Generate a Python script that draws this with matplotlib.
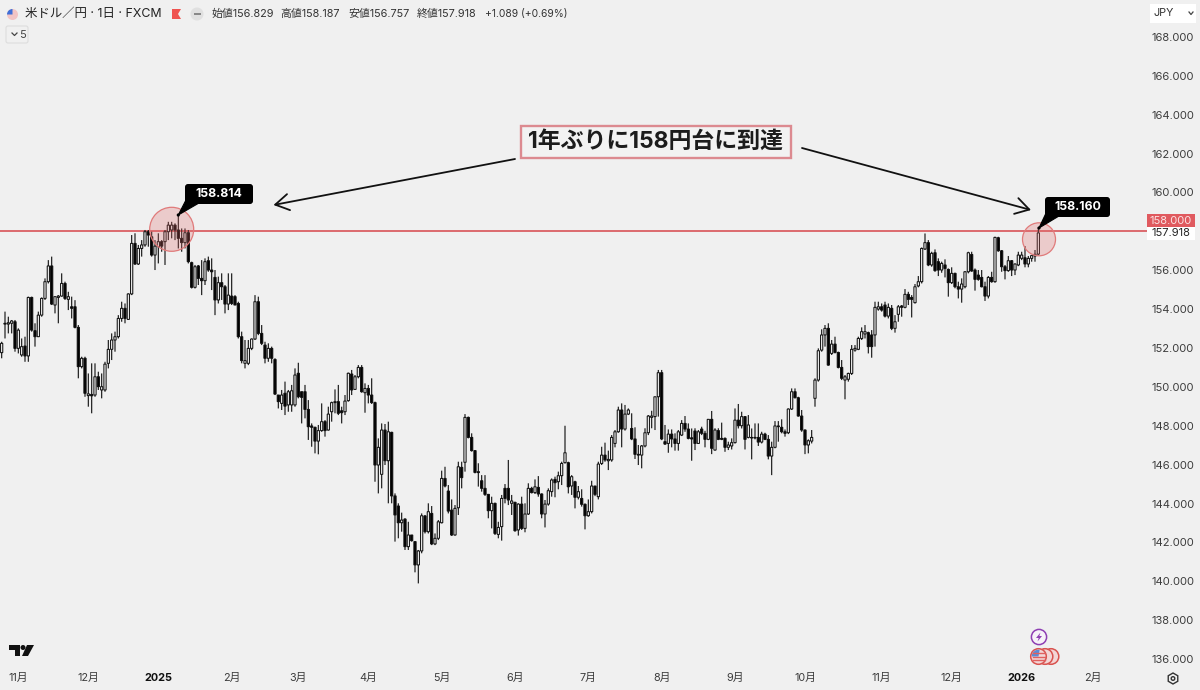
import matplotlib
matplotlib.use('Agg')
import matplotlib.pyplot as plt
import matplotlib.patches as patches

plt.rcParams['font.family'] = ['Inter', 'Noto Sans CJK JP', 'DejaVu Sans']

# daily candles
opens = [
    151.76, 153.27, 153.23, 153.27, 153.35, 151.98, 151.64, 152.10, 151.59, 154.60,
    152.89, 152.58, 153.69, 154.55, 155.41, 156.22, 154.21, 154.60, 154.67, 155.32,
    154.50, 154.12, 154.12, 153.06, 151.04, 151.47, 149.55, 149.61, 149.58, 150.52,
    149.84, 149.84, 151.21, 151.93, 152.41, 152.58, 153.52, 154.04, 153.47, 154.78,
    157.38, 156.32, 157.12, 157.30, 157.98, 157.72, 156.78, 157.21, 157.47, 157.47,
    157.98, 158.07, 158.32, 158.07, 157.64, 157.42, 157.93, 156.39, 155.12, 156.22,
    155.58, 155.46, 156.49, 156.01, 155.63, 154.47, 155.36, 155.15, 154.26, 154.67,
    154.64, 154.29, 152.58, 151.21, 151.21, 151.98, 152.46, 154.38, 152.75, 152.15,
    151.47, 151.98, 151.41, 149.58, 149.15, 149.67, 149.07, 149.07, 149.07, 150.70,
    149.75, 149.75, 148.84, 147.99, 147.92, 147.21, 147.75, 148.21, 147.78, 148.72,
    149.19, 149.24, 148.77, 148.72, 149.29, 150.66, 149.87, 150.52, 151.00, 149.70,
    149.92, 149.58, 149.19, 145.98, 145.50, 147.78, 146.20, 147.66, 144.39, 143.87,
    143.01, 143.20, 141.78, 142.38, 142.04, 140.84, 141.56, 143.36, 142.55, 143.49,
    141.92, 142.21, 143.01, 145.29, 144.64, 143.66, 142.38, 143.78, 145.86, 146.12,
    148.43, 147.40, 146.72, 145.59, 145.17, 144.78, 144.47, 143.63, 144.01, 142.41,
    142.81, 144.78, 144.78, 144.01, 144.06, 142.64, 143.97, 142.72, 143.46, 144.78,
    144.56, 144.83, 144.49, 143.46, 143.97, 144.61, 145.24, 145.12, 145.43, 146.10,
    146.10, 144.90, 145.12, 144.32, 144.26, 143.96, 143.37, 143.58, 144.90, 144.35,
    146.06, 146.49, 146.20, 146.24, 147.09, 147.69, 148.81, 147.83, 148.60, 147.86,
    147.32, 146.53, 146.49, 146.96, 147.64, 148.43, 148.47, 149.49, 150.73, 147.18,
    147.09, 147.57, 147.32, 147.09, 147.52, 148.12, 147.83, 147.38, 147.73, 147.09,
    147.83, 147.61, 147.30, 148.33, 146.75, 147.75, 147.35, 147.35, 146.89, 146.96,
    147.13, 148.29, 148.00, 148.47, 147.40, 147.40, 147.40, 147.40, 147.16, 147.57,
    147.30, 146.44, 146.89, 147.95, 147.92, 147.69, 147.64, 148.86, 149.75, 149.44,
    148.50, 147.78, 147.01, 147.21, 149.41, 150.35, 151.89, 152.67, 153.01, 151.72,
    152.20, 151.77, 151.00, 150.35, 150.39, 150.69, 151.89, 151.93, 152.49, 152.72,
    152.79, 152.67, 152.67, 154.00, 154.12, 154.21, 153.64, 154.04, 153.01, 153.73,
    154.16, 154.09, 154.76, 154.60, 154.33, 155.19, 155.41, 157.09, 157.42, 156.27,
    156.90, 156.44, 156.01, 156.27, 156.04, 155.36, 155.84, 155.15, 155.03, 155.15,
    155.92, 156.81, 156.01, 155.75, 155.63, 155.15, 154.67, 155.63, 155.41, 157.67,
    157.00, 156.18, 155.98, 156.49, 156.01, 156.27, 156.61, 156.64, 156.32, 156.61,
    156.73, 156.83,
]
highs = [
    152.32, 153.87, 153.61, 153.44, 153.44, 153.01, 152.49, 152.58, 154.64, 154.64,
    153.27, 153.87, 154.60, 155.58, 156.52, 156.70, 154.64, 154.72, 155.84, 155.41,
    154.89, 154.64, 154.46, 153.18, 151.55, 151.55, 150.69, 151.21, 151.21, 150.78,
    150.69, 151.29, 152.41, 152.75, 152.84, 153.69, 154.38, 154.29, 154.81, 157.81,
    157.90, 157.30, 157.55, 158.07, 158.07, 157.98, 157.55, 157.90, 157.55, 158.07,
    158.49, 158.49, 158.41, 158.81, 158.15, 158.15, 158.07, 156.44, 156.27, 156.27,
    156.52, 156.61, 156.70, 156.61, 156.01, 155.67, 155.84, 155.24, 155.84, 155.84,
    154.72, 154.38, 152.84, 152.41, 152.41, 152.49, 154.72, 154.64, 153.18, 152.32,
    152.24, 152.07, 151.47, 149.58, 149.84, 150.27, 149.84, 150.10, 150.95, 151.24,
    149.75, 150.10, 149.32, 148.12, 147.95, 148.04, 149.15, 148.29, 148.98, 149.24,
    149.87, 150.10, 148.98, 149.58, 150.73, 150.87, 150.61, 151.12, 151.12, 150.18,
    150.10, 150.44, 149.24, 147.35, 148.12, 148.09, 148.21, 147.69, 144.52, 144.01,
    143.53, 143.24, 143.06, 142.38, 142.04, 141.61, 143.49, 143.41, 144.01, 143.87,
    142.46, 143.15, 145.69, 145.89, 144.95, 144.21, 143.92, 146.15, 146.15, 148.60,
    148.47, 147.61, 146.75, 146.07, 145.46, 145.46, 144.49, 144.35, 144.04, 143.06,
    144.44, 145.00, 146.24, 144.44, 144.09, 144.01, 144.35, 144.01, 145.04, 144.86,
    145.24, 145.41, 144.52, 144.18, 144.78, 145.29, 145.38, 145.64, 146.15, 148.00,
    146.15, 145.46, 145.17, 144.90, 144.73, 144.00, 144.21, 145.17, 144.90, 146.15,
    146.92, 147.13, 146.72, 147.52, 147.78, 148.98, 149.15, 149.07, 148.89, 148.64,
    147.92, 147.01, 147.01, 147.87, 148.55, 148.77, 149.49, 150.87, 150.87, 148.04,
    147.81, 147.81, 147.61, 147.78, 148.29, 148.50, 148.12, 147.86, 147.87, 147.78,
    147.95, 147.74, 148.33, 148.76, 147.87, 147.87, 148.16, 147.40, 147.18, 147.35,
    148.89, 149.12, 148.72, 148.50, 148.55, 147.86, 148.12, 148.12, 147.69, 147.64,
    147.52, 147.18, 148.24, 148.24, 148.33, 147.81, 148.89, 149.92, 149.92, 149.49,
    148.81, 147.81, 147.30, 147.78, 150.44, 151.98, 152.96, 153.18, 153.27, 152.41,
    152.58, 151.81, 151.38, 150.61, 150.73, 152.15, 152.15, 152.58, 153.06, 153.18,
    152.84, 152.92, 154.38, 154.38, 154.29, 154.38, 154.29, 154.21, 153.69, 154.21,
    154.21, 155.03, 154.89, 154.72, 155.29, 155.70, 157.17, 157.89, 157.55, 156.95,
    157.07, 156.61, 156.44, 156.56, 156.09, 156.15, 155.87, 155.41, 155.58, 155.96,
    156.95, 156.95, 156.09, 156.01, 156.01, 155.41, 155.70, 155.92, 157.72, 157.72,
    157.04, 156.27, 156.73, 156.52, 156.35, 156.95, 156.95, 157.24, 156.73, 156.78,
    157.04, 158.19,
]
lows = [
    151.47, 152.49, 152.75, 152.75, 151.81, 151.72, 151.55, 151.29, 151.29, 152.84,
    152.07, 152.58, 153.61, 154.47, 155.32, 154.21, 153.78, 153.27, 154.64, 154.47,
    153.95, 153.52, 153.01, 150.44, 150.95, 149.49, 148.98, 148.64, 149.49, 149.84,
    149.41, 149.75, 150.95, 151.38, 151.81, 152.49, 153.35, 153.27, 153.44, 154.72,
    156.27, 156.27, 156.70, 157.21, 157.21, 156.70, 156.01, 156.35, 156.95, 156.27,
    157.55, 157.64, 157.55, 157.12, 156.95, 157.12, 156.35, 155.06, 155.06, 155.24,
    154.72, 155.24, 155.92, 154.98, 153.69, 154.29, 154.47, 153.78, 153.95, 154.21,
    154.21, 152.49, 151.21, 150.95, 151.12, 151.89, 152.41, 152.66, 152.15, 151.21,
    151.29, 151.21, 149.58, 148.89, 148.81, 148.55, 148.72, 148.72, 148.98, 149.41,
    148.12, 148.38, 147.27, 146.92, 146.58, 146.53, 147.69, 147.44, 147.75, 148.21,
    148.64, 148.55, 148.12, 148.55, 149.24, 149.58, 149.84, 150.44, 149.70, 148.67,
    149.15, 149.12, 145.12, 144.52, 144.78, 145.98, 144.01, 144.01, 142.04, 142.21,
    142.55, 141.61, 141.61, 142.04, 140.46, 139.89, 141.44, 142.46, 142.46, 141.86,
    141.86, 142.12, 142.98, 144.83, 143.49, 142.33, 142.35, 143.41, 144.78, 145.64,
    147.35, 146.67, 145.55, 144.87, 144.61, 144.39, 143.24, 142.72, 142.38, 142.21,
    142.09, 144.01, 143.92, 143.41, 142.55, 142.35, 142.64, 142.52, 143.41, 144.52,
    144.49, 144.35, 143.24, 142.77, 143.89, 144.35, 144.32, 144.73, 144.95, 146.06,
    144.52, 144.44, 143.75, 144.21, 143.84, 142.67, 143.32, 143.49, 144.38, 144.21,
    145.98, 146.15, 145.72, 146.15, 146.89, 147.64, 146.89, 147.75, 148.55, 147.26,
    146.29, 145.98, 145.81, 146.89, 147.52, 147.87, 147.78, 148.47, 147.26, 147.01,
    146.61, 146.89, 146.72, 146.72, 147.47, 147.69, 147.30, 146.20, 146.75, 147.09,
    147.52, 146.89, 147.26, 146.54, 146.72, 147.26, 147.26, 146.66, 146.75, 146.78,
    147.09, 147.86, 147.86, 146.78, 147.35, 146.27, 147.30, 146.96, 147.09, 147.26,
    146.27, 145.46, 146.84, 147.18, 147.61, 147.44, 147.57, 148.81, 149.41, 148.47,
    147.69, 146.54, 146.58, 147.09, 148.98, 150.27, 151.81, 152.07, 151.09, 151.64,
    151.72, 150.95, 150.35, 149.36, 150.27, 150.61, 151.81, 151.89, 152.41, 152.49,
    151.72, 151.50, 152.07, 153.92, 153.87, 153.57, 153.52, 152.92, 152.79, 153.35,
    153.61, 154.04, 154.21, 153.57, 154.29, 155.12, 155.32, 157.04, 156.21, 156.18,
    155.92, 155.70, 155.87, 155.63, 154.64, 155.29, 155.07, 154.55, 154.33, 155.07,
    155.84, 155.92, 154.95, 155.46, 155.12, 154.42, 154.55, 155.36, 155.36, 156.95,
    155.92, 155.53, 155.92, 155.70, 155.75, 156.21, 156.52, 156.15, 156.15, 156.44,
    156.44, 156.76,
]
closes = [
    152.24, 153.23, 153.30, 153.39, 151.98, 152.92, 152.07, 151.59, 154.60, 152.92,
    152.58, 153.69, 154.55, 155.41, 156.22, 154.26, 154.64, 154.67, 155.32, 154.55,
    154.64, 154.04, 153.06, 151.04, 151.47, 149.67, 149.64, 149.54, 150.52, 150.01,
    150.01, 151.17, 151.93, 152.41, 152.58, 153.52, 154.04, 153.52, 154.78, 157.38,
    156.32, 157.12, 157.30, 157.98, 157.81, 156.78, 157.24, 157.47, 157.24, 157.98,
    158.32, 158.32, 158.07, 157.64, 157.42, 157.93, 156.44, 155.12, 156.18, 155.58,
    155.46, 156.44, 156.01, 155.92, 154.47, 155.36, 155.15, 154.26, 154.72, 154.29,
    154.21, 152.58, 151.35, 151.35, 151.98, 152.46, 154.38, 152.75, 152.24, 151.47,
    151.98, 151.47, 149.63, 149.24, 149.58, 149.01, 149.75, 149.80, 150.61, 149.49,
    149.46, 148.84, 147.95, 147.92, 147.21, 147.75, 148.21, 147.75, 148.60, 149.19,
    149.24, 148.64, 148.67, 149.27, 150.70, 149.84, 150.52, 151.00, 149.75, 149.92,
    149.58, 149.19, 145.98, 146.89, 147.78, 146.20, 147.69, 144.39, 143.41, 143.01,
    143.15, 141.78, 142.38, 142.09, 140.84, 141.56, 143.37, 142.55, 143.58, 141.92,
    142.21, 143.06, 145.29, 144.90, 143.61, 142.38, 143.75, 145.89, 145.33, 148.43,
    147.40, 146.72, 145.60, 145.64, 144.78, 144.47, 143.63, 144.01, 142.46, 142.77,
    144.26, 144.26, 144.18, 144.13, 142.60, 143.97, 142.72, 143.46, 144.78, 144.56,
    144.86, 144.49, 143.46, 143.97, 144.66, 145.21, 145.07, 145.43, 146.06, 146.61,
    144.86, 145.38, 144.32, 144.61, 143.96, 143.37, 143.58, 144.90, 144.47, 146.03,
    146.49, 146.24, 146.27, 147.40, 147.69, 148.81, 147.83, 148.60, 148.81, 147.32,
    146.53, 146.49, 146.96, 147.64, 148.50, 148.50, 149.49, 150.73, 147.32, 147.06,
    147.57, 147.32, 147.09, 147.69, 148.12, 147.83, 147.35, 147.32, 147.09, 147.69,
    147.61, 147.30, 148.33, 146.84, 147.78, 147.30, 147.30, 146.89, 147.01, 147.13,
    148.29, 148.00, 148.47, 147.30, 148.04, 147.37, 147.37, 147.16, 147.57, 147.30,
    146.44, 146.89, 147.99, 147.99, 147.69, 147.61, 148.86, 149.75, 149.44, 148.50,
    147.78, 147.01, 147.23, 147.40, 150.35, 151.86, 152.67, 153.01, 151.12, 152.20,
    151.77, 151.00, 150.44, 150.52, 150.69, 151.93, 151.98, 152.49, 152.84, 152.84,
    152.07, 152.07, 154.09, 154.12, 153.95, 153.64, 154.09, 153.01, 153.35, 154.12,
    154.09, 154.76, 154.50, 154.50, 155.15, 155.41, 157.12, 157.42, 156.27, 156.87,
    155.98, 156.01, 156.35, 156.09, 155.36, 155.84, 155.15, 155.03, 155.29, 155.92,
    156.90, 155.96, 155.53, 155.53, 155.15, 154.67, 155.63, 155.41, 157.69, 157.00,
    156.18, 155.98, 156.49, 156.01, 156.32, 156.78, 156.78, 156.32, 156.61, 156.75,
    156.82, 157.92,
]

month_pos = [5, 26, 47, 69, 89, 110, 132, 154, 176, 198, 220, 241, 264, 285, 306, 327.5]
month_labels = ['11月', '12月', '2025', '2月', '3月', '4月', '5月', '6月', '7月', '8月',
                '9月', '10月', '11月', '12月', '2026', '2月']
price_ticks = [136, 138, 140, 142, 144, 146, 148, 150, 152, 154, 156, 160, 162, 164, 166, 168]
level = 158.0
last_close = 157.918
high_first = 158.814
high_last = 158.160

bg = '#f0f0f0'
red = '#dc6a6e'

fig = plt.figure(figsize=(12, 6.9), dpi=100, facecolor=bg)

# main chart axes (candles and both scales)
ax = fig.add_axes([0, 23 / 690, 1147 / 1200, 667 / 690], facecolor=bg)
for s in ax.spines.values():
    s.set_visible(False)

ax.axhline(level, color=red, lw=1.4, zorder=1)

for i in range(len(closes)):
    up = closes[i] >= opens[i]
    ax.vlines(i, lows[i], highs[i], color='#1a1a1a', lw=0.85, zorder=2).set_snap(False)
    bars = ax.bar(i, abs(closes[i] - opens[i]), bottom=min(opens[i], closes[i]), width=0.66,
                  facecolor='#fbfbfb' if up else 'black', edgecolor='#111111', linewidth=0.75, zorder=3)
    bars[0].set_snap(False)

ax.set_xlim(-0.5, 343.6)
ax.set_ylim(135.59, 169.9)

ax.yaxis.tick_right()
ax.set_yticks(price_ticks)
ax.set_yticklabels(['%.3f' % p for p in price_ticks], fontsize=8, color='#3c3c3c')
ax.tick_params(axis='y', length=0, pad=3)
ax.set_xticks(month_pos)
ax.set_xticklabels(month_labels, fontsize=7.8, color='#3c3c3c')
ax.tick_params(axis='x', length=0, pad=4)
for lab in ax.get_xticklabels():
    if lab.get_text() in ('2025', '2026'):
        lab.set_fontweight('bold')
        lab.set_color('#111111')

# overlay in pixel coordinates for the drawn-on notes and chart furniture
ov = fig.add_axes([0, 0, 1, 1], facecolor='none')
ov.set_xlim(0, 1200)
ov.set_ylim(690, 0)
ov.axis('off')

# red circles round the two highs
ov.add_patch(patches.Circle((171.7, 229.3), 22, fc='#e06a6a', alpha=0.27, ec='none'))
ov.add_patch(patches.Circle((171.7, 229.3), 22, fc='none', ec='#e07a7a', lw=0.9))
ov.add_patch(patches.Circle((1039, 239.3), 16.5, fc='#e06a6a', alpha=0.27, ec='none'))
ov.add_patch(patches.Circle((1039, 239.3), 16.5, fc='none', ec='#e07a7a', lw=0.9))


def callout(x0, y0, x1, y1, tipx, tipy, value):
    ov.add_patch(patches.FancyBboxPatch((x0 + 3, y0 + 3), x1 - x0 - 6, y1 - y0 - 6,
                                        boxstyle='round,pad=3', fc='black', ec='none'))
    ov.add_patch(patches.Polygon([(x0 + 2, y1 - 6), (x0 + 14, y1 - 1), (tipx, tipy)],
                                 closed=True, fc='black', ec='black', lw=0.8))
    ov.add_patch(patches.Circle((tipx, tipy), 1.6, fc='black', ec='none'))
    ov.text((x0 + x1) / 2, (y0 + y1) / 2, '%.3f' % value, color='white', fontsize=8.9,
            fontweight='bold', ha='center', va='center')


callout(185, 184, 253, 204, 178.3, 215, high_first)
callout(1045, 197, 1110, 217, 1039, 228, high_last)

# headline and arrows
ov.add_patch(patches.Rectangle((520.5, 125.5), 270, 32, fc='#f2f2f2', ec='#dc8a90', lw=1.7))
ov.text(655.5, 141.5, '1年ぶりに158円台に到達', fontsize=16.5, fontweight='bold', color='#1c1c1c',
        ha='center', va='center', family=['Inter', 'Noto Sans CJK JP', 'DejaVu Sans'])
ov.annotate('', xy=(273.5, 205), xytext=(515, 159),
            arrowprops=dict(arrowstyle='->,head_length=0.75,head_width=0.45', color='#111111', lw=1.3,
                            mutation_scale=13, shrinkA=0, shrinkB=0))
ov.annotate('', xy=(1031, 210), xytext=(802, 148),
            arrowprops=dict(arrowstyle='->,head_length=0.75,head_width=0.45', color='#111111', lw=1.3,
                            mutation_scale=13, shrinkA=0, shrinkB=0))

# price labels on the scale
ov.add_patch(patches.Rectangle((1147, 214), 48, 13, fc='#e05a5f', ec='none'))
ov.text(1171, 220.5, '%.3f' % level, color='#fbe3e3', fontsize=8, ha='center', va='center')
ov.add_patch(patches.Rectangle((1147, 227), 48, 13, fc='white', ec='none'))
ov.text(1171, 233.5, '%.3f' % last_close, color='#222222', fontsize=8, ha='center', va='center')

# header row
ov.add_patch(patches.Circle((12.5, 14.5), 5.5, fc='#f2c4c4', ec='none'))
ov.add_patch(patches.Wedge((12.5, 14.5), 5.5, 180, 270, fc='#3f6fd8', ec='none'))
ov.text(25, 14, '米ドル／円 · 1日 · FXCM', fontsize=8.95, color='#222222', va='center',
        family=['Inter', 'Noto Sans CJK JP', 'DejaVu Sans'])
ov.add_patch(patches.Polygon([(172, 9), (181, 9), (178, 14), (181, 19), (172, 19)],
                             closed=True, fc='#ef5350', ec='none'))
ov.add_patch(patches.Circle((197, 14), 6.5, fc='#e0e0e0', ec='none'))
ov.add_patch(patches.Rectangle((193.5, 13), 7, 2, fc='#888888', ec='none'))
header_x = [212, 280, 348, 417, 485]
header_txt = ['始値156.829', '高値158.187', '安値156.757', '終値157.918', '+1.089 (+0.69%)']
for x, t in zip(header_x, header_txt):
    ov.text(x, 14, t, fontsize=7.4 if t.startswith('+') else 7.8, color='#333333', va='center',
            family=['Inter', 'Noto Sans CJK JP', 'DejaVu Sans'])

ov.add_patch(patches.FancyBboxPatch((8, 28), 18, 13, boxstyle='round,pad=2', fc='#f0f0f0',
                                    ec='#dddddd', lw=0.8))
ov.plot([12, 14.5, 17], [33, 35.5, 33], color='#444444', lw=0.9)
ov.text(22, 34.5, '5', fontsize=8, color='#444444', ha='center', va='center')

ov.add_patch(patches.Rectangle((1150, 4), 46, 19, fc='white', ec='none'))
ov.text(1153, 13.5, 'JPY', fontsize=7.8, color='#333333', va='center')
ov.plot([1189, 1191, 1193], [12, 14.5, 12], color='#444444', lw=0.9)

# TradingView mark
ov.add_patch(patches.Polygon([(9, 645), (20, 645), (20, 656), (15, 656), (15, 650), (9, 650)],
                             closed=True, fc='#111111', ec='none'))
ov.add_patch(patches.Circle((23, 647.5), 2.5, fc='#111111', ec='none'))
ov.add_patch(patches.Polygon([(27, 645), (34, 645), (28, 656), (22, 656)],
                             closed=True, fc='#111111', ec='none'))

# event icons under the last candles
ov.add_patch(patches.Circle((1039, 637), 7.6, fc='#f6f1f8', ec='#8e3fb3', lw=1.1))
ov.add_patch(patches.Polygon([(1040.5, 632.5), (1036, 638), (1038.7, 638), (1037.5, 641.5),
                              (1042, 636), (1039.3, 636)], closed=True, fc='#8e3fb3', ec='none'))
for cx in (1051, 1045, 1038.5):
    ov.add_patch(patches.Circle((cx, 656.5), 7.8, fc='#f3d6d6', ec='#d9534f', lw=1.1))
for dy in (-3.5, 0, 3.5):
    ov.plot([1032.5, 1044.5], [656.5 + dy, 656.5 + dy], color='#e0605f', lw=1)
ov.add_patch(patches.Wedge((1038.5, 656.5), 6.8, 180, 280, fc='#5b8bd6', ec='none'))

# settings icon
ov.add_patch(patches.RegularPolygon((1173, 678.5), 6, radius=5.5, fc='none', ec='#333333', lw=1))
ov.add_patch(patches.Circle((1173, 678.5), 1.8, fc='none', ec='#333333', lw=1))

fig.savefig('out.png', dpi=100, facecolor=bg)
